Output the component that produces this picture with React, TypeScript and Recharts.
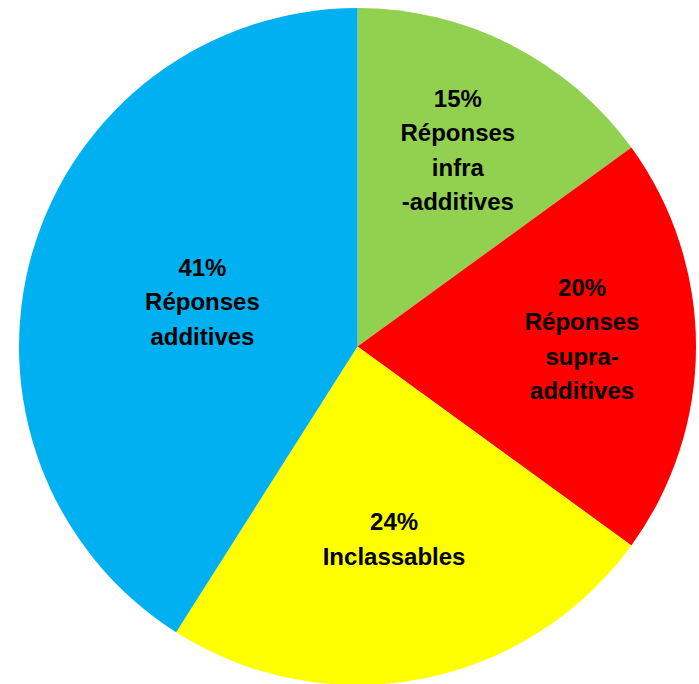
import React from 'react';
import { PieChart, Pie, Cell } from 'recharts';

const categories = ['Réponses infra-additives', 'Réponses supra-additives', 'Inclassables', 'Réponses additives'];
const values = [15, 20, 24, 41];
const labelLines = [
  ['Réponses', 'infra', '-additives'],
  ['Réponses', 'supra-', 'additives'],
  ['Inclassables'],
  ['Réponses', 'additives'],
];
const colors = ['#92D050', '#FF0000', '#FFFF00', '#00B0F0'];

// label placement: fraction of radius and angle shift (deg) from slice middle
const labelRadius = [0.653, 0.664, 0.577, 0.477];
const labelShift = [0, 2, 0, 0];

const data = categories.map((name, i) => ({ name, value: values[i] }));
const total = values.reduce((a, b) => a + b, 0);

const RADIAN = Math.PI / 180;
const LINE_H = 34.5;

const renderLabel = (props: any) => {
  const { cx, cy, midAngle, outerRadius, index } = props;
  const angle = midAngle + labelShift[index];
  const r = outerRadius * labelRadius[index];
  const x = cx + r * Math.cos(-angle * RADIAN);
  const y = cy + r * Math.sin(-angle * RADIAN);
  const lines = [`${Math.round((values[index] / total) * 100)}%`, ...labelLines[index]];
  const startDy = -((lines.length - 1) / 2) * LINE_H;
  return (
    <text
      x={x}
      y={y}
      textAnchor="middle"
      dominantBaseline="central"
      fontFamily="'Liberation Sans', Arial, sans-serif"
      fontWeight="bold"
      fontSize={24}
      fill="#000"
    >
      {lines.map((t, i) => (
        <tspan key={i} x={x} dy={i === 0 ? startDy : LINE_H}>
          {t}
        </tspan>
      ))}
    </text>
  );
};

export default function App() {
  return (
    <div style={{ position: 'absolute', left: 0, top: 0, width: 699, height: 684, background: '#fff' }}>
      <PieChart width={699} height={684} margin={{ top: 0, right: 0, bottom: 0, left: 0 }}>
        <Pie
          data={data}
          dataKey="value"
          nameKey="name"
          cx={357.5}
          cy={346.5}
          outerRadius={338.5}
          startAngle={90}
          endAngle={-270}
          stroke="none"
          label={renderLabel}
          labelLine={false}
          isAnimationActive={false}
        >
          {data.map((d, i) => (
            <Cell key={d.name} fill={colors[i]} />
          ))}
        </Pie>
      </PieChart>
    </div>
  );
}
